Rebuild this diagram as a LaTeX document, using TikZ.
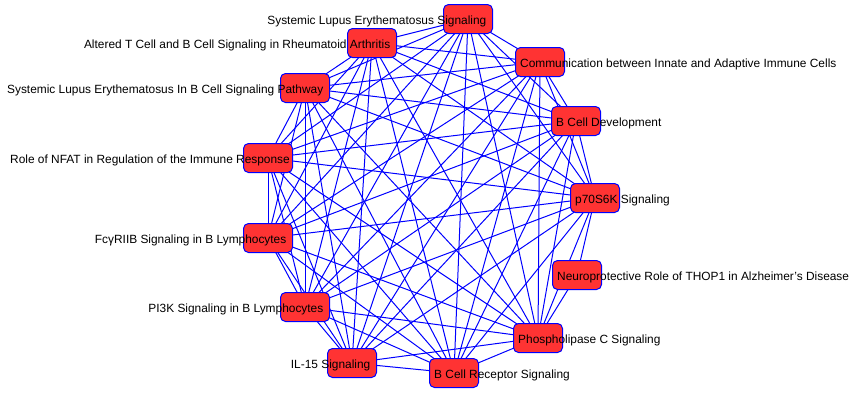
\documentclass[tikz,border=0pt]{standalone}
\usepackage{fontspec}
\setmainfont{Liberation Sans}
\usepackage{xcolor}
\usetikzlibrary{backgrounds}

\definecolor{pathred}{RGB}{255,51,51}
\definecolor{linkblue}{RGB}{0,0,255}

\begin{document}
\begin{tikzpicture}[x=1pt,y=-1pt,
		pathway/.style={draw=linkblue, fill=pathred, rounded corners=5pt, line width=1pt, minimum width=49pt, minimum height=29pt, inner sep=0pt},
		link/.style={draw=linkblue, line width=1pt},
		lbl/.style={inner sep=0pt, font=\fontsize{11.9}{13}\selectfont}]
		\useasboundingbox (0,0) rectangle (850,399);

		% pathway boxes
		\node[pathway] (sle) at (468,19) {};
		\node[pathway] (atb) at (372,43) {};
		\node[pathway] (comm) at (540,62) {};
		\node[pathway] (sleb) at (305,88) {};
		\node[pathway] (bdev) at (576,121) {};
		\node[pathway] (nfat) at (268,158) {};
		\node[pathway] (p70) at (595,198) {};
		\node[pathway] (fcg) at (268,238) {};
		\node[pathway] (thop) at (577,275) {};
		\node[pathway] (pi3k) at (305,307) {};
		\node[pathway] (plc) at (538,338) {};
		\node[pathway] (il15) at (352,363) {};
		\node[pathway] (bcr) at (454,373) {};

		% links
		\begin{scope}[on background layer]
			\foreach \u [count=\i] in {sle,atb,comm,sleb,bdev,nfat,p70,fcg,pi3k,plc,il15,bcr}
				\foreach \v [count=\j] in {sle,atb,comm,sleb,bdev,nfat,p70,fcg,pi3k,plc,il15,bcr}
					{\ifnum\j>\i \draw[link] (\u.center) -- (\v.center); \fi}
			\draw[link] (thop.center) -- (p70.center);
			\draw[link] (thop.center) -- (plc.center);
		\end{scope}

		% labels
		\node[lbl, anchor=base east] (sleLbl) at ([xshift=-6.5pt, yshift=-5.5pt]sle.east) {Systemic Lupus Erythematosus Signaling};
		\node[lbl, anchor=base east] (atbLbl) at ([xshift=-6.5pt, yshift=-5.5pt]atb.east) {Altered T Cell and B Cell Signaling in Rheumatoid Arthritis};
		\node[lbl, anchor=base west] (commLbl) at ([xshift=5pt, yshift=-5.5pt]comm.west) {Communication between Innate and Adaptive Immune Cells};
		\node[lbl, anchor=base east] (slebLbl) at ([xshift=-6.5pt, yshift=-5.5pt]sleb.east) {Systemic Lupus Erythematosus In B Cell Signaling Pathway};
		\node[lbl, anchor=base west] (bdevLbl) at ([xshift=5pt, yshift=-5.5pt]bdev.west) {B Cell Development};
		\node[lbl, anchor=base east] (nfatLbl) at ([xshift=-3pt, yshift=-5.5pt]nfat.east) {Role of NFAT in Regulation of the Immune Response};
		\node[lbl, anchor=base west] (p70Lbl) at ([xshift=5pt, yshift=-5.5pt]p70.west) {p70S6K Signaling};
		\node[lbl, anchor=base east] (fcgLbl) at ([xshift=-6.5pt, yshift=-5.5pt]fcg.east) {FcγRIIB Signaling in B Lymphocytes};
		\node[lbl, anchor=base west] (thopLbl) at ([xshift=5pt, yshift=-5.5pt]thop.west) {Neuroprotective Role of THOP1 in Alzheimer's Disease};
		\node[lbl, anchor=base east] (pi3kLbl) at ([xshift=-6.5pt, yshift=-5.5pt]pi3k.east) {PI3K Signaling in B Lymphocytes};
		\node[lbl, anchor=base west] (plcLbl) at ([xshift=5pt, yshift=-5.5pt]plc.west) {Phospholipase C Signaling};
		\node[lbl, anchor=base east] (il15Lbl) at ([xshift=-6.5pt, yshift=-5.5pt]il15.east) {IL-15 Signaling};
		\node[lbl, anchor=base west] (bcrLbl) at ([xshift=5pt, yshift=-5.5pt]bcr.west) {B Cell Receptor Signaling};
	\end{tikzpicture}
\end{document}
